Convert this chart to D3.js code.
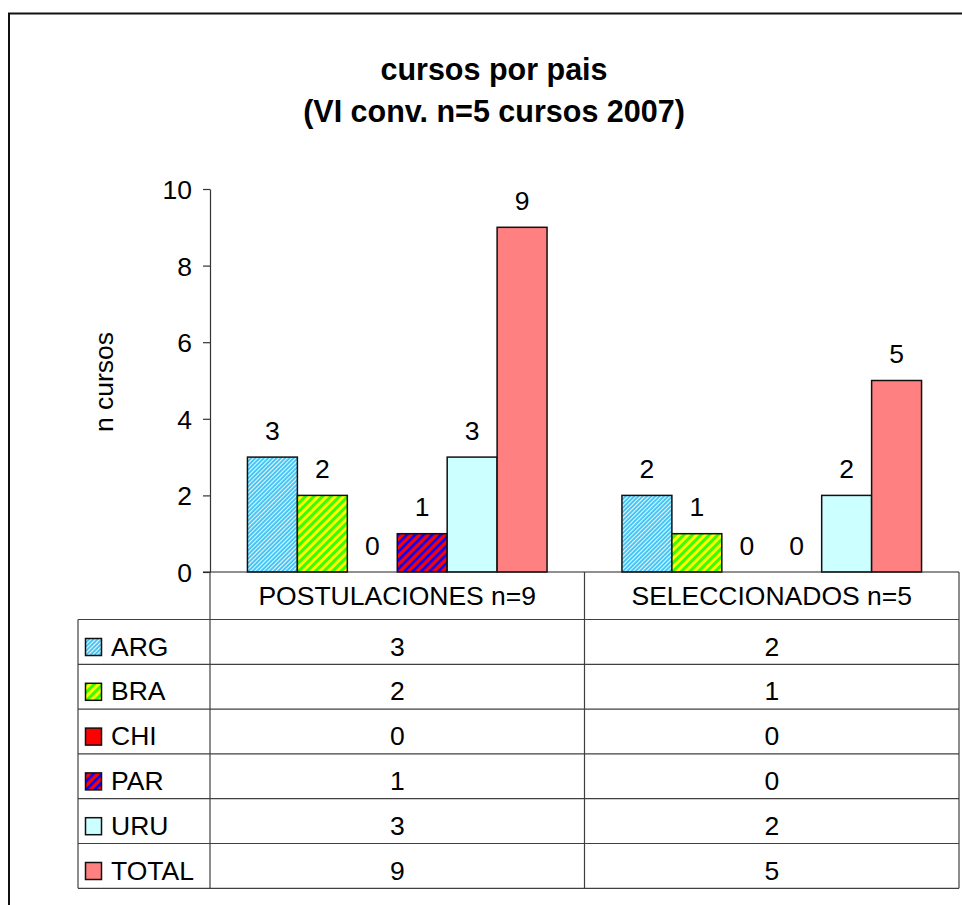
<!DOCTYPE html>
<html><head><meta charset="utf-8">
<script src="https://cdn.jsdelivr.net/npm/d3@7"></script>
<style>
html,body{margin:0;padding:0;background:#fff;}
svg{display:block;font-family:"Liberation Sans",Arial,sans-serif;}
</style></head>
<body><svg id="c" width="962" height="905"></svg>
<script>
const categories = ["POSTULACIONES n=9", "SELECCIONADOS n=5"];
const seriesNames = ["ARG", "BRA", "CHI", "PAR", "URU", "TOTAL"];
const ARG = [3, 2];
const BRA = [2, 1];
const CHI = [0, 0];
const PAR = [1, 0];
const URU = [3, 2];
const TOTAL = [9, 5];
const yTicks = [0, 2, 4, 6, 8, 10];
const title1 = "cursos por pais";
const title2 = "(VI conv. n=5 cursos 2007)";
const yTitle = "n cursos";

const seriesValues = {ARG, BRA, CHI, PAR, URU, TOTAL};
const fills = {ARG:"url(#pARG)", BRA:"url(#pBRA)", CHI:"#FF0000", PAR:"url(#pPAR)", URU:"#CCFFFF", TOTAL:"#FF8080"};
const FS = 26.5;

const svg = d3.select("#c");
const defs = svg.append("defs");
function stripes(id, bg, fg, size, w){
  const p = defs.append("pattern").attr("id", id).attr("patternUnits","userSpaceOnUse")
    .attr("width", size).attr("height", size).attr("patternTransform","rotate(45)");
  p.append("rect").attr("width", size).attr("height", size).attr("fill", bg);
  p.append("rect").attr("width", w).attr("height", size).attr("fill", fg);
}
stripes("pARG", "#3CC4F5", "#E8F8FF", 3, 1.1);
stripes("pBRA", "#33FF00", "#FFFF00", 6, 3);
stripes("pPAR", "#FF0000", "#0000FF", 6, 2.6);

const left = 210, right = 959, x0base = 572, tableTop = 619.5, rowH = 44.8;
const y = d3.scaleLinear().domain([0, 10]).range([x0base, 189]);
const x0 = d3.scaleBand().domain(categories).range([left, right]);
const x1 = d3.scaleBand().domain(seriesNames).range([0, x0.bandwidth()]).paddingInner(0).paddingOuter(0.75);

// outer border
svg.append("path").attr("d", "M9,905V13.5H962").attr("fill","none").attr("stroke","#111").attr("stroke-width",2);

// titles
svg.append("text").attr("x", 494).attr("y", 80).attr("text-anchor","middle")
  .attr("font-weight","bold").attr("font-size", 30.5).text(title1);
svg.append("text").attr("x", 494).attr("y", 122).attr("text-anchor","middle")
  .attr("font-weight","bold").attr("font-size", 30.5).text(title2);

// y axis title
svg.append("text").attr("transform","translate(113,382) rotate(-90)").attr("text-anchor","middle")
  .attr("font-size", FS).text(yTitle);

// bars
const groups = svg.append("g").selectAll("g").data(categories).join("g")
  .attr("transform", d => `translate(${x0(d)},0)`);
groups.each(function(cat, ci){
  const g = d3.select(this);
  seriesNames.forEach(s => {
    const v = seriesValues[s][ci];
    if (v > 0) {
      g.append("rect").attr("x", x1(s)).attr("y", y(v)).attr("width", x1.bandwidth())
        .attr("height", y(0) - y(v)).attr("fill", fills[s]).attr("stroke","#111").attr("stroke-width",1.5);
    }
    g.append("text").attr("x", x1(s) + x1.bandwidth()/2).attr("y", y(v) - 17.5)
      .attr("text-anchor","middle").attr("font-size", FS).text(v);
  });
});

// y axis
const ax = svg.append("g").attr("transform", `translate(${left},0)`)
  .call(d3.axisLeft(y).tickValues(yTicks).tickSize(7).tickSizeOuter(0).tickPadding(11));
ax.select(".domain").attr("stroke","#333").attr("stroke-width",1.2);
ax.selectAll(".tick line").attr("stroke","#333").attr("stroke-width",1.2);
ax.selectAll(".tick text").attr("font-size", FS).attr("font-family","Liberation Sans, Arial, sans-serif")
  .attr("fill","#000").attr("dy","0.36em");

// data table
const grid = svg.append("g").attr("stroke","#404040").attr("stroke-width",1.2).attr("fill","none");
const tableBottom = tableTop + rowH * seriesNames.length;
grid.append("line").attr("x1", left - 7).attr("x2", right).attr("y1", x0base).attr("y2", x0base).attr("stroke","#222");
grid.append("line").attr("x1", left).attr("x2", left).attr("y1", x0base).attr("y2", tableBottom);
grid.append("line").attr("x1", x0(categories[1])).attr("x2", x0(categories[1])).attr("y1", x0base).attr("y2", tableBottom);
grid.append("line").attr("x1", right).attr("x2", right).attr("y1", x0base).attr("y2", tableBottom);
grid.append("line").attr("x1", 78).attr("x2", 78).attr("y1", tableTop).attr("y2", tableBottom);
for (let i = 0; i <= seriesNames.length; i++) {
  const yy = tableTop + i * rowH;
  grid.append("line").attr("x1", 78).attr("x2", right).attr("y1", yy).attr("y2", yy);
}
// header
categories.forEach(c => {
  svg.append("text").attr("x", x0(c) + x0.bandwidth()/2).attr("y", 605).attr("text-anchor","middle")
    .attr("font-size", FS).text(c);
});
// rows
seriesNames.forEach((s, i) => {
  const ry = tableTop + i * rowH;
  svg.append("rect").attr("x", 85.5).attr("y", ry + 19).attr("width", 16).attr("height", 17)
    .attr("fill", fills[s]).attr("stroke","#111").attr("stroke-width",1.5);
  svg.append("text").attr("x", 111).attr("y", ry + 36).attr("font-size", FS).text(s);
  categories.forEach((c, ci) => {
    svg.append("text").attr("x", x0(c) + x0.bandwidth()/2).attr("y", ry + 36)
      .attr("text-anchor","middle").attr("font-size", FS).text(seriesValues[s][ci]);
  });
});
</script></body></html>
